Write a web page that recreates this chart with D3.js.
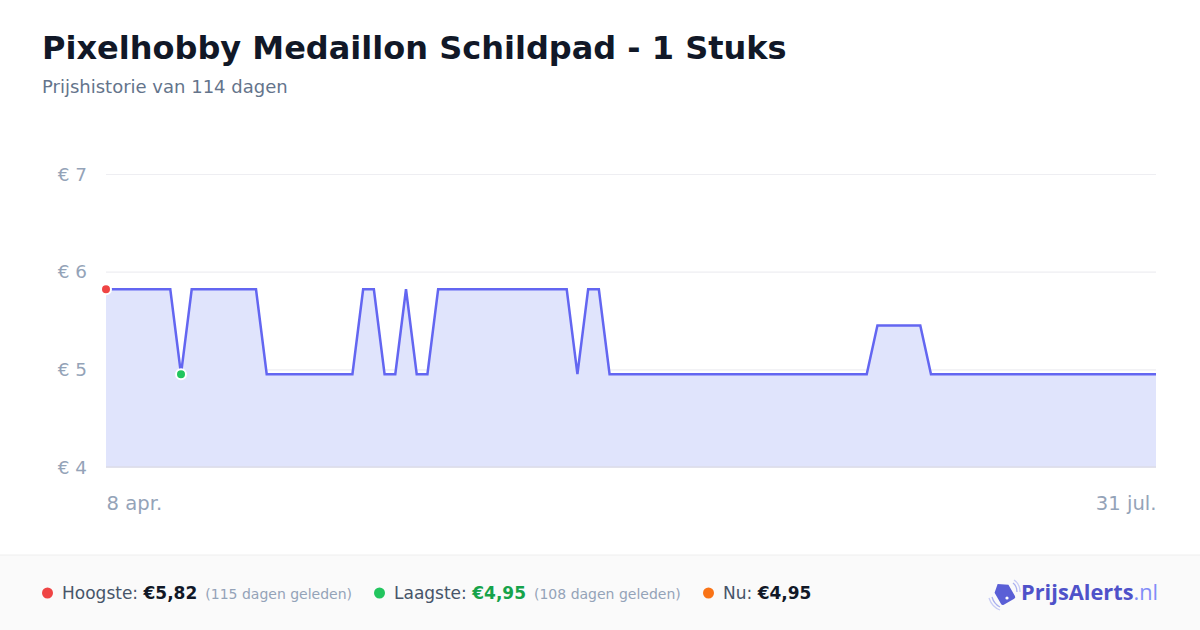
<!DOCTYPE html>
<html><head><meta charset="utf-8">
<script src="https://cdn.jsdelivr.net/npm/d3@7/dist/d3.min.js"></script>
<style>
html,body{margin:0;padding:0;background:#fff;}
svg{display:block;font-family:"DejaVu Sans",sans-serif;}
</style></head>
<body>
<svg id="c" width="1200" height="630"></svg>
<script>
const title = "Pixelhobby Medaillon Schildpad - 1 Stuks";
const subtitle = "Prijshistorie van 114 dagen";
const prices = [
 5.82,5.82,5.82,5.82,5.82,5.82,5.82,4.95,5.82,5.82,
 5.82,5.82,5.82,5.82,5.82,4.95,4.95,4.95,4.95,4.95,
 4.95,4.95,4.95,4.95,5.82,5.82,4.95,4.95,5.82,4.95,
 4.95,5.82,5.82,5.82,5.82,5.82,5.82,5.82,5.82,5.82,
 5.82,5.82,5.82,5.82,4.95,5.82,5.82,4.95,4.95,4.95,
 4.95,4.95,4.95,4.95,4.95,4.95,4.95,4.95,4.95,4.95,
 4.95,4.95,4.95,4.95,4.95,4.95,4.95,4.95,4.95,4.95,
 4.95,4.95,5.45,5.45,5.45,5.45,5.45,4.95,4.95,4.95,
 4.95,4.95,4.95,4.95,4.95,4.95,4.95,4.95,4.95,4.95,
 4.95,4.95,4.95,4.95,4.95,4.95,4.95,4.95,4.95
];
const yTicks = [4,5,6,7];
const xLabels = ["8 apr.","31 jul."];
const statLabels = ["Hoogste:","Laagste:","Nu:"];
const statValues = ["€5,82","€4,95","€4,95"];
const statAgo = ["(115 dagen geleden)","(108 dagen geleden)",""];
const statColors = ["#ef4444","#22c55e","#f97316"];
const statValueColors = ["#111827","#16a34a","#111827"];

const svg = d3.select("#c");
const W = 1200, H = 630;
const m = {left:106, right:1156, top:174, bottom:467};

svg.append("text").attr("x",42).attr("y",59).attr("font-size",32).attr("font-weight","bold")
  .attr("fill","#111827").text(title);
svg.append("text").attr("x",42).attr("y",93).attr("font-size",18).attr("fill","#64748b").text(subtitle);

const x = d3.scaleLinear().domain([0, prices.length-1]).range([m.left, m.right]);
const y = d3.scaleLinear().domain([4,7]).range([m.bottom, m.top]);

// grid
const yAxis = d3.axisLeft(y).tickValues(yTicks).tickSize(-(m.right-m.left)).tickFormat(d=>"€ "+d).tickPadding(19);
const ga = svg.append("g").attr("transform",`translate(${m.left},0)`).call(yAxis);
ga.select(".domain").remove();
ga.selectAll(".tick line").attr("stroke","#eeeef2").attr("stroke-width",1.2);
ga.selectAll(".tick text").attr("font-size",18.4).attr("fill","#94a3b8").attr("font-family","DejaVu Sans").attr("dy","0.34em");

// area
const area = d3.area().x((d,i)=>x(i)).y0(y(4)).y1(d=>y(d));
svg.append("path").datum(prices).attr("d",area).attr("fill","#e0e4fc");
svg.append("line").attr("x1",m.left).attr("x2",m.right).attr("y1",y(4)).attr("y2",y(4))
  .attr("stroke","#dcdde8").attr("stroke-width",1.5);
const line = d3.line().x((d,i)=>x(i)).y(d=>y(d));
svg.append("path").datum(prices).attr("d",line).attr("fill","none").attr("stroke","#6366f1")
  .attr("stroke-width",2.5).attr("stroke-linejoin","miter");

// markers
const maxV = d3.max(prices), minV = d3.min(prices);
const iMax = prices.indexOf(maxV), iMin = prices.indexOf(minV);
[[iMax,"#ef4444"],[iMin,"#22c55e"]].forEach(([i,c])=>{
  svg.append("circle").attr("cx",x(i)).attr("cy",y(prices[i])).attr("r",5)
    .attr("fill",c).attr("stroke","#fff").attr("stroke-width",2);
});

// x labels
const xa = d3.axisBottom(x).tickValues([0,prices.length-1]).tickFormat((d,i)=>xLabels[i]).tickSize(0).tickPadding(0);
const gx = svg.append("g").attr("transform",`translate(0,${m.bottom})`).call(xa);
gx.select(".domain").remove();
gx.selectAll(".tick text").attr("font-size",19.6).attr("fill","#94a3b8").attr("font-family","DejaVu Sans")
  .attr("y",43).attr("dy",0)
  .attr("text-anchor",(d,i)=>i===0?"start":"end");

// footer
svg.append("rect").attr("x",0).attr("y",555).attr("width",W).attr("height",75).attr("fill","#fafafa");
svg.append("line").attr("x1",0).attr("x2",W).attr("y1",555).attr("y2",555).attr("stroke","#eeeeee");

const fy = 599;
const starts = [42, 374, 703];
statLabels.forEach((lab,i)=>{
  const g = svg.append("g");
  g.append("circle").attr("cx",starts[i]+5.5).attr("cy",fy-6).attr("r",5.5).attr("fill",statColors[i]);
  const t = g.append("text").attr("x",starts[i]+20).attr("y",fy).attr("font-size",17);
  t.append("tspan").attr("fill","#475569").text(lab+" ");
  t.append("tspan").attr("fill",statValueColors[i]).attr("font-weight","bold").text(statValues[i]);
  if(statAgo[i]) t.append("tspan").attr("fill","#94a3b8").attr("font-size",14).attr("dx",8).text(statAgo[i]);
});

// logo
const lg = svg.append("g").attr("transform","translate(990,580)");
lg.append("path").attr("d","M6,8 L13,2 L22,8 L22,21 Q22,23 20,23 L8,23 Q6,23 6,21 Z")
  .attr("transform","rotate(-30,14,13)").attr("fill","#5a5fd6");
lg.append("circle").attr("cx",17).attr("cy",18).attr("r",1.6).attr("fill","#fff");
lg.append("path").attr("d","M2,17 Q4,24 10,27").attr("fill","none").attr("stroke","#aab0ef").attr("stroke-width",1.3);
lg.append("path").attr("d","M-1,18 Q2,27 10,30").attr("fill","none").attr("stroke","#c7cbf5").attr("stroke-width",1.3);
lg.append("path").attr("d","M23,3 Q27,6 27,12").attr("fill","none").attr("stroke","#aab0ef").attr("stroke-width",1.3);
lg.append("path").attr("d","M24,0 Q30,4 30,12").attr("fill","none").attr("stroke","#c7cbf5").attr("stroke-width",1.3);
const lt = svg.append("text").attr("x",1021).attr("y",600).attr("font-size",21.8).attr("font-family","'Open Sans',sans-serif");
lt.append("tspan").attr("font-weight","bold").attr("fill","#4f52c9").text("PrijsAlerts");
lt.append("tspan").attr("fill","#818cf8").text(".nl");
</script>
</body></html>
